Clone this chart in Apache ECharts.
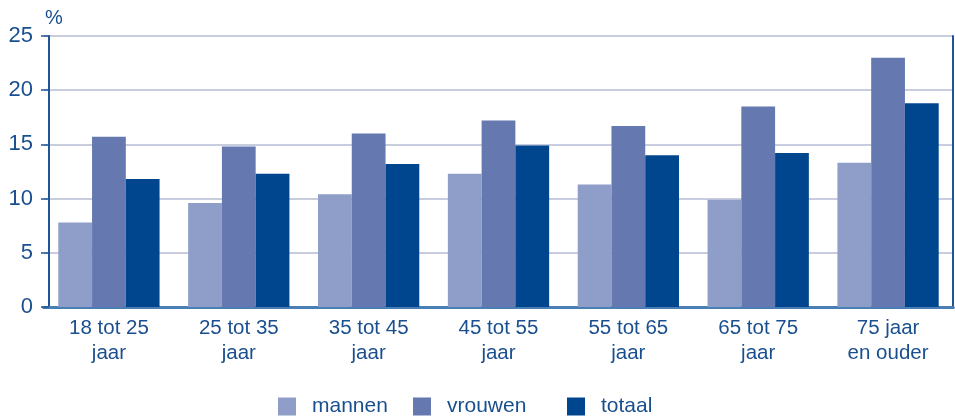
<!DOCTYPE html>
<html>
<head>
<meta charset="utf-8">
<script src="https://cdn.jsdelivr.net/npm/echarts@6/dist/echarts.min.js"></script>
<style>
  html, body { margin: 0; padding: 0; background: #fff; }
  #chart { width: 955px; height: 418px; }
</style>
</head>
<body>
<div id="chart"></div>
<script>
const categories = ['18 tot 25\njaar', '25 tot 35\njaar', '35 tot 45\njaar', '45 tot 55\njaar',
  '55 tot 65\njaar', '65 tot 75\njaar', '75 jaar\nen ouder'];
const mannen = [7.8, 9.6, 10.4, 12.3, 11.3, 9.9, 13.3];
const vrouwen = [15.7, 14.8, 16.0, 17.2, 16.7, 18.5, 23.0];
const totaal = [11.8, 12.3, 13.2, 14.9, 14.0, 14.2, 18.8];

const textColor = '#1a4f8f';
const font = 'Liberation Sans, Arial, sans-serif';
const colors = { mannen: '#8f9ec8', vrouwen: '#6579b0', totaal: '#00468e' };

const chart = echarts.init(document.getElementById('chart'));

function bar(name, data) {
  return {
    name: name,
    type: 'bar',
    data: data,
    barGap: '0%',
    barCategoryGap: '22%',
    itemStyle: { color: colors[name] },
    emphasis: { disabled: true }
  };
}

function legendItem(name, left) {
  return {
    bottom: 1,
    left: left,
    padding: 0,
    itemWidth: 18,
    itemHeight: 18,
    icon: 'rect',
    selectedMode: false,
    textStyle: { color: textColor, fontSize: 21, fontFamily: font, padding: [0, 0, 0, 11] },
    data: [name]
  };
}

chart.setOption({
  animation: false,
  textStyle: { fontFamily: font },
  grid: { left: 44, right: 2, top: 36, bottom: 111 },
  legend: [
    legendItem('mannen', 278),
    legendItem('vrouwen', 413),
    legendItem('totaal', 567)
  ],
  xAxis: [{
    type: 'category',
    data: categories,
    axisLine: { lineStyle: { color: '#0b4a8f', width: 3 } },
    axisTick: { show: false },
    axisLabel: { color: textColor, fontSize: 20.5, lineHeight: 25, margin: 9 }
  }, {
    type: 'category',
    position: 'top',
    data: categories,
    axisLine: { lineStyle: { color: '#4a7fb5', width: 3 } },
    axisTick: { show: false },
    axisLabel: { show: false }
  }],
  yAxis: [{
    type: 'value',
    min: 0, max: 25, interval: 5,
    offset: -5,
    name: '%',
    nameGap: 8,
    nameTextStyle: { color: textColor, fontSize: 20, align: 'left', padding: [0, 0, 0, -4] },
    axisLine: { show: true, lineStyle: { color: '#1f5596', width: 2 } },
    axisTick: { show: true, length: 8, lineStyle: { color: '#1f5596', width: 1.5 } },
    axisLabel: { color: textColor, fontSize: 22, margin: 16 },
    splitLine: { lineStyle: { color: '#b4bdd4', width: 1.5 } }
  }, {
    type: 'value',
    position: 'right',
    min: 0, max: 25, interval: 5,
    axisLine: { show: true, lineStyle: { color: '#1f5596', width: 2 } },
    axisTick: { show: false },
    axisLabel: { show: false },
    splitLine: { show: false }
  }],
  series: [
    bar('mannen', mannen),
    bar('vrouwen', vrouwen),
    bar('totaal', totaal)
  ]
});
</script>
</body>
</html>
